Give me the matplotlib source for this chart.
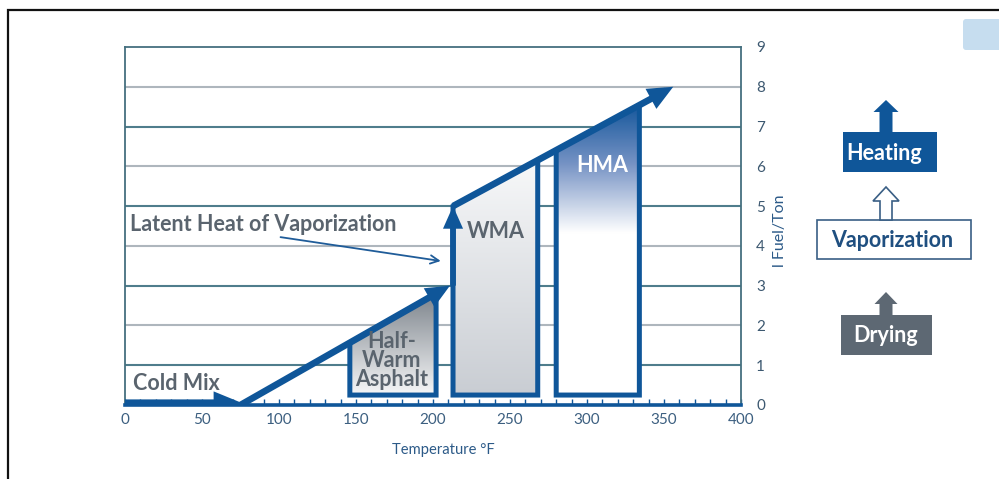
import numpy as np
import matplotlib
matplotlib.use("Agg")
import matplotlib.pyplot as plt
from matplotlib.patches import Polygon, Rectangle, FancyArrowPatch, FancyBboxPatch
from matplotlib.colors import LinearSegmentedColormap

plt.rcParams["font.family"] = ["Lato", "DejaVu Sans"]

# heating path, temperature (°F) against fuel per ton
cold_temp = [0, 76]
cold_fuel = [0.05, 0.05]
warm_temp = [75, 211]
warm_fuel = [0, 3]
latent_temp = [213, 213]
latent_fuel = [3, 5]
hot_temp = [213, 356]
hot_fuel = [5, 8]

# mix temperature ranges sitting under the path
mix_names = ["Half-\nWarm\nAsphalt", "WMA", "HMA"]
mix_lo = [146, 213, 280]
mix_hi = [202, 268, 334]
mix_base = 0.25

x_ticks = [0, 50, 100, 150, 200, 250, 300, 350, 400]
x_minor = list(range(0, 401, 10))
y_ticks = [0, 1, 2, 3, 4, 5, 6, 7, 8, 9]

stages = ["Heating", "Vaporization", "Drying"]

BLUE = "#0f5699"
GRAY_TXT = "#5a646e"
TEAL = "#45707f"
BIG = 15.5


def path_fuel(t):
    if t < latent_temp[0]:
        return float(np.interp(t, warm_temp, warm_fuel))
    return float(np.interp(t, hot_temp, hot_fuel))


def thick_arrow(ax, xs, ys, lw=4.8, hl=0.9, hw=0.4):
    a = FancyArrowPatch((xs[0], ys[0]), (xs[1], ys[1]),
                        arrowstyle=f"-|>,head_length={hl},head_width={hw}",
                        mutation_scale=10, lw=lw, color=BLUE,
                        shrinkA=0, shrinkB=0, joinstyle="miter", capstyle="butt",
                        zorder=6)
    ax.add_patch(a)


fig = plt.figure(figsize=(9.99, 4.79), dpi=100)
ax = fig.add_axes([125 / 999, 74 / 479, 616 / 999, 358 / 479])
ax.set_xlim(0, 400)
ax.set_ylim(0, 9)

# horizontal guide lines, alternating tone
for v in y_ticks[1:-1]:
    ax.axhline(v, color="#4f7d8c" if v % 2 else "#aeb6bd", lw=1.5, zorder=1)

# mix boxes with gradient fills
grads = [
    LinearSegmentedColormap.from_list("half", ["#f6f7f8", "#7c838b"]),
    LinearSegmentedColormap.from_list("wma", ["#c9cdd3", "#f7f8f9"]),
    LinearSegmentedColormap.from_list("hma", [(0, "#ffffff"), (0.56, "#ffffff"),
                                              (0.8, "#7592c4"), (1, "#17589c")]),
]
grad = np.linspace(0, 1, 256).reshape(-1, 1)
for lo, hi, cmap in zip(mix_lo, mix_hi, grads):
    top_lo, top_hi = path_fuel(lo), path_fuel(hi)
    poly = Polygon([(lo, mix_base), (hi, mix_base), (hi, top_hi), (lo, top_lo)],
                   closed=True, facecolor="none", edgecolor=BLUE, lw=3.6,
                   joinstyle="miter", zorder=4)
    ax.add_patch(poly)
    im = ax.imshow(grad, extent=[lo, hi, mix_base, max(top_lo, top_hi)],
                   origin="lower", cmap=cmap, aspect="auto", zorder=3)
    im.set_clip_path(poly)
ax.set_xlim(0, 400)
ax.set_ylim(0, 9)

# heating path
thick_arrow(ax, cold_temp, cold_fuel, lw=5.2, hl=1.1, hw=0.45)
thick_arrow(ax, warm_temp, warm_fuel)
thick_arrow(ax, latent_temp, latent_fuel, lw=4.2, hl=0.9, hw=0.4)
thick_arrow(ax, hot_temp, hot_fuel, hl=1.0, hw=0.45)

# labels
lbl = dict(fontweight="bold", color=GRAY_TXT, fontsize=BIG, zorder=7)
ax.text(5, 0.53, "Cold Mix", ha="left", va="center", **lbl)
ax.text(173, 1.12, mix_names[0], ha="center", va="center", linespacing=0.88, **lbl)
ax.text(241, 4.35, mix_names[1], ha="center", va="center", **lbl)
ax.text(309.6, 6.03, mix_names[2], ha="center", va="center",
        fontweight="bold", color="white", fontsize=BIG, zorder=7)
ax.text(3.3, 4.55, "Latent Heat of Vaporization", ha="left", va="center", **lbl)
ax.annotate("", xy=(205, 3.62), xytext=(101, 4.22),
            arrowprops=dict(arrowstyle="->,head_length=0.6,head_width=0.3",
                            color="#1f5c99", lw=1.3, shrinkA=0, shrinkB=0),
            zorder=7)

# axes styling
for side in ["left", "top", "right"]:
    ax.spines[side].set_color(TEAL)
    ax.spines[side].set_linewidth(1.3)
ax.spines["bottom"].set_color(BLUE)
ax.spines["bottom"].set_linewidth(2.6)
ax.spines["bottom"].set_zorder(5)

ax.set_xticks(x_ticks)
ax.set_xticks(x_minor, minor=True)
ax.tick_params(axis="x", which="both", direction="in", length=4, width=1,
               color=BLUE, labelsize=11, labelcolor="#3c5f80", pad=6)
ax.yaxis.tick_right()
ax.set_yticks(y_ticks)
ax.tick_params(axis="y", length=0, labelsize=11, labelcolor="#3c5870", pad=11)

ax.set_xlabel("Temperature °F", fontsize=10.6, color="#2c5a88", labelpad=11)
ax.xaxis.label.set_x(0.516)
ax.yaxis.set_label_position("right")
ax.set_ylabel("l Fuel/Ton", fontsize=11.5, color="#2c5a88", rotation=90, labelpad=6)
ax.yaxis.label.set_y(0.486)

# stage key on the right, drawn in pixel space
ov = fig.add_axes([0, 0, 1, 1], zorder=10)
ov.set_xlim(0, 999)
ov.set_ylim(479, 0)
ov.axis("off")
ov.patch.set_alpha(0)


def up_arrow(cx, y_base, y_tip, shaft_w, head_w, head_len, face, edge, lw=0):
    pts = [(cx - shaft_w / 2, y_base), (cx - shaft_w / 2, y_tip + head_len),
           (cx - head_w / 2, y_tip + head_len), (cx, y_tip),
           (cx + head_w / 2, y_tip + head_len), (cx + shaft_w / 2, y_tip + head_len),
           (cx + shaft_w / 2, y_base)]
    ov.add_patch(Polygon(pts, closed=False if face == "none" else True,
                         facecolor=face, edgecolor=edge, lw=lw, joinstyle="miter"))


# Heating
ov.add_patch(Rectangle((843, 132), 94, 40, facecolor=BLUE, edgecolor="none"))
up_arrow(886, 133, 100, 13, 25, 12, BLUE, "none")
ov.text(884, 153, stages[0], ha="center", va="center", color="white",
        fontweight="bold", fontsize=BIG)
# Vaporization
ov.add_patch(Rectangle((817, 220), 154, 39, facecolor="white", edgecolor="#3a5f85", lw=1.2))
up_arrow(886, 220, 187, 12, 26, 14, "white", "#3a5f85", lw=1.2)
ov.text(892, 240, stages[1], ha="center", va="center", color="#1f4f80",
        fontweight="bold", fontsize=BIG)
# Drying
ov.add_patch(Rectangle((841, 315), 91, 40, facecolor="#5d6873", edgecolor="none"))
up_arrow(886, 316, 292, 13, 23, 12, "#5d6873", "none")
ov.text(886, 336, stages[2], ha="center", va="center", color="white",
        fontweight="bold", fontsize=BIG)

# small tab in the corner and the outer frame
ov.add_patch(FancyBboxPatch((963, 19), 60, 31, boxstyle="round,pad=0,rounding_size=3",
                            facecolor="#c6ddef", edgecolor="none"))
ov.plot([8, 8, 1000], [480, 10, 10], color="#111111", lw=1.6, solid_joinstyle="miter")

fig.savefig("out.png", dpi=100)
